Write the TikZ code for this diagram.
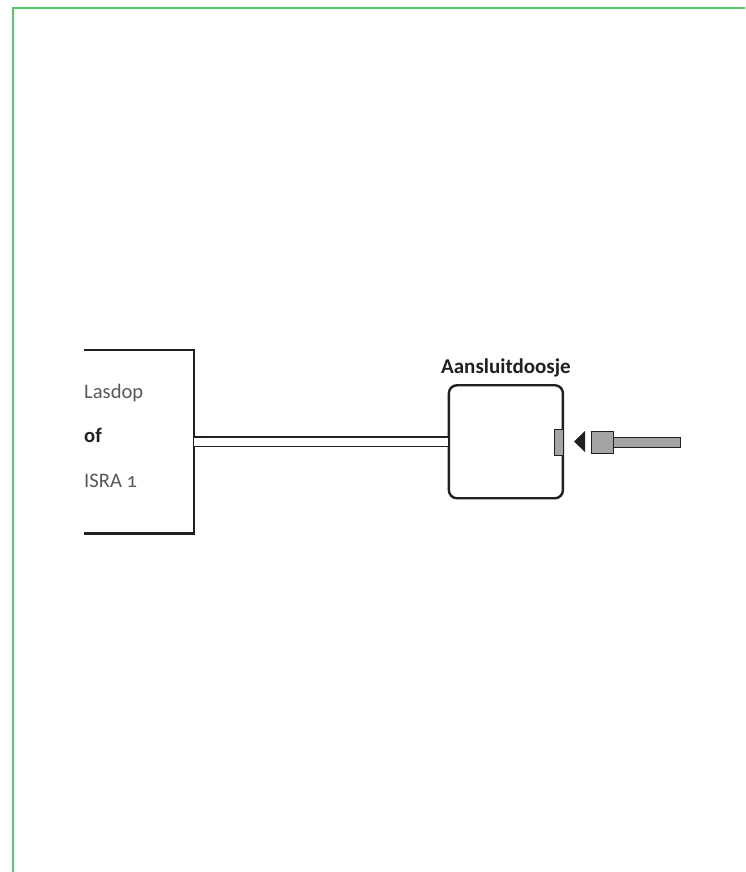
\documentclass[tikz,border=0pt]{standalone}
\usepackage{fontspec}
\setmainfont[Numbers=OldStyle]{Carlito}
\usetikzlibrary{positioning}
\definecolor{kader}{HTML}{58C96A}
\definecolor{grijs}{HTML}{A3A4A6}
\definecolor{lijn}{HTML}{231F20}
\definecolor{tekst}{HTML}{58585A}
\tikzset{
  label/.style={anchor=base west, inner sep=0pt, text=tekst, font=\fontsize{20.6}{24}\selectfont},
  kop/.style={inner sep=0pt, text=lijn, font=\fontsize{21}{24}\selectfont\bfseries},
  onderdeel/.style={draw=lijn, fill=grijs, inner sep=0pt, line width=0.9pt}
}

\begin{document}
\begin{tikzpicture}[x=1pt, y=-1pt]
  \useasboundingbox (0,0) rectangle (745,872);
  % Frame
  \draw[kader, line width=1.2pt] (13,872) -- (13,8) -- (745,8);

  % Parts
  \node[minimum width=110pt, minimum height=183pt, inner sep=0pt] (lasdop) at (139,441.75) {};
  \node[draw=lijn, line width=2.4pt, rounded corners=8pt, minimum width=114pt, minimum height=113pt, inner sep=0pt, right=253.5pt of lasdop.east, anchor=west] (doos) {};
  \node[onderdeel, minimum width=8.5pt, minimum height=26.5pt] (poort) at (558.9,442.25) {};
  \node[onderdeel, minimum width=22pt, minimum height=22pt] (stekker) at (602.5,442) {};
  \node[draw=lijn, fill=grijs, line width=0.4pt, minimum width=67pt, minimum height=10.5pt, inner sep=0pt, right=-0.5pt of stekker.east, anchor=west] (kabel) {};
  \coordinate (punt) at (574,441.5);

  % Texts
  \node[label] (lasdoptekst) at (84,398) {Lasdop};
  \node[label, font=\fontsize{20.6}{24}\selectfont\bfseries, text=lijn] (oftekst) at (84,442) {of};
  \node[label] (isratekst) at (84,487) {ISRA 1};
  \node[kop, above=7pt of doos.north] (doostekst) {Aansluitdoosje};

  % Lines
  \draw[lijn, line width=2.4pt] (lasdop.north west) -- (lasdop.north east) -- (lasdop.south east) -- (lasdop.south west);
  \draw[lijn, line width=1.1pt, double=white, double distance=8.4pt] (lasdop.east) -- (doos.west);
  \fill[lijn] (punt) -- ++(11,-10.5) -- ++(0,21) -- cycle;
\end{tikzpicture}
\end{document}
